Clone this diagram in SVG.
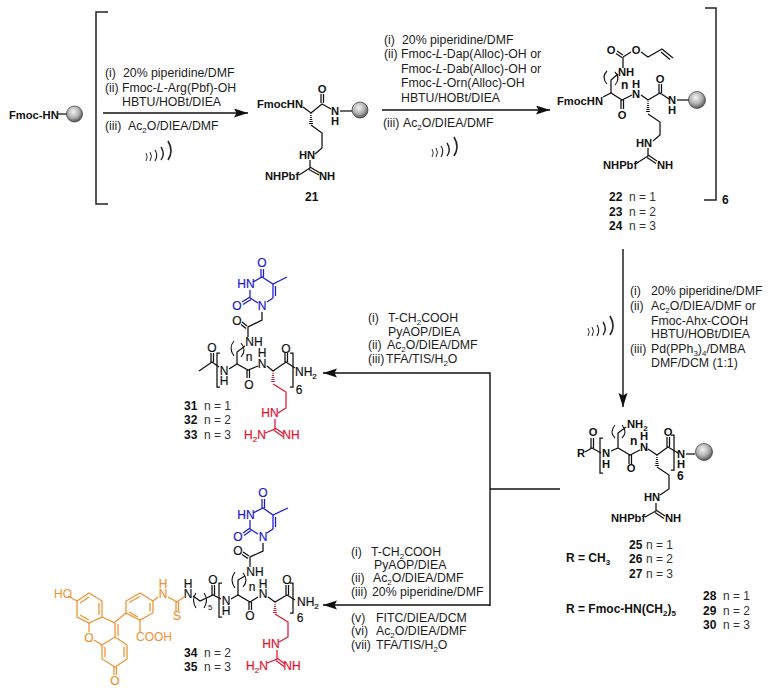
<svg xmlns="http://www.w3.org/2000/svg" width="774" height="691" viewBox="0 0 774 691">
<style>
text{font-family:"Liberation Sans",Arial,sans-serif;fill:#1c1c1c}
.c{font-size:12.3px}
.a{font-size:11.2px;font-weight:bold;text-anchor:middle;fill:#111}
.as{font-size:11.2px;font-weight:bold;fill:#111}
.m{font-size:12px;text-anchor:middle;fill:#111;stroke:#111;stroke-width:.2}
.bb{font-size:12px;font-weight:bold;fill:#111}
.reg{font-size:12px;fill:#111;stroke:#111;stroke-width:.2}
.n{font-size:12px;fill:#333}
.bt{fill:#1a1ad0}.rt{fill:#e0142c}.ot{fill:#ee9230}
.m.bt{stroke:#1a1ad0}.m.rt{stroke:#e0142c}.m.ot{stroke:#ee9230}
.l{fill:none;stroke:#111;stroke-width:1.25}
.bu{fill:none;stroke:#1a1ad0;stroke-width:1.25}
.re{fill:none;stroke:#e0142c;stroke-width:1.25}
.or{fill:none;stroke:#ee9230;stroke-width:1.25}
.br{fill:none;stroke:#222;stroke-width:1.5}
.arrow{fill:none;stroke:#111;stroke-width:1.4}
.par{fill:none;stroke:#111;stroke-width:1.1}
</style>
<defs>
<radialGradient id="ball" cx="0.42" cy="0.36" r="0.68">
<stop offset="0" stop-color="#f4f4f4"/><stop offset="0.55" stop-color="#b0b0b0"/><stop offset="1" stop-color="#4a4a4a"/>
</radialGradient>
<marker id="ah" markerUnits="userSpaceOnUse" markerWidth="14" markerHeight="10" refX="14" refY="4.5" orient="auto">
<path d="M0,0 L14,4.500 L0,9 L2.500,4.500 Z" fill="#111"/>
</marker>
<path id="hw" stroke-width="1" d="M-.4,.5H.4M-.7,2.500H.7M-1,4.500H1M-1.300,6.500H1.300M-1.600,8.500H1.600M-1.900,10.500H1.900"/>
<g id="us" fill="none" stroke="#222">
<path d="M0,-4 Q2.500,0 0,4" stroke-width=".9"/>
<path d="M4,-5 Q7,-1 4,4" stroke-width="1"/>
<path d="M9,-7 Q12.500,-2 9,4" stroke-width="1.200"/>
<path d="M15,-10 Q19.500,-3 15,3" stroke-width="1.400"/>
<path d="M22,-16 Q28,-6 22,3" stroke-width="1.600"/>
</g>
</defs>

<g id="connectors">
<path class="arrow" d="M103,113H248" marker-end="url(#ah)"/>
<path class="arrow" d="M382,110H550" marker-end="url(#ah)"/>
<path class="arrow" d="M623,249V407" marker-end="url(#ah)"/>
<path class="arrow" d="M560,489H490"/>
<path class="arrow" d="M490,606V373H323" marker-end="url(#ah)"/>
<path class="arrow" d="M490,605H323" marker-end="url(#ah)"/>
<path class="br" d="M108,12H96V204H108"/>
<path class="br" d="M705,8H716V200H704"/>
<text class="bb" x="722" y="204">6</text>
<use href="#us" x="146" y="157"/>
<use href="#us" x="432" y="153"/>
<use href="#us" x="588" y="332"/>
</g>

<g id="conditions-1">
<text class="c" x="105" y="77">(i)</text><text class="c" x="123" y="77">20% piperidine/DMF</text>
<text class="c" x="105" y="92">(ii)</text><text class="c" x="122" y="92">Fmoc-<tspan font-style="italic">L</tspan>-Arg(Pbf)-OH</text>
<text class="c" x="122" y="106">HBTU/HOBt/DIEA</text>
<text class="c" x="105" y="130">(iii)</text><text class="c" x="128" y="130">Ac<tspan font-size="8" dy="2.500">2</tspan><tspan dy="-2.500">O/DIEA/DMF</tspan></text>
</g>
<g id="conditions-2">
<text class="c" x="384" y="44">(i)</text><text class="c" x="402" y="44">20% piperidine/DMF</text>
<text class="c" x="384" y="58">(ii)</text><text class="c" x="401" y="58">Fmoc-<tspan font-style="italic">L</tspan>-Dap(Alloc)-OH or</text>
<text class="c" x="401" y="73">Fmoc-<tspan font-style="italic">L</tspan>-Dab(Alloc)-OH or</text>
<text class="c" x="401" y="87">Fmoc-<tspan font-style="italic">L</tspan>-Orn(Alloc)-OH</text>
<text class="c" x="401" y="102">HBTU/HOBt/DIEA</text>
<text class="c" x="383" y="127">(iii)</text><text class="c" x="403" y="127">Ac<tspan font-size="8" dy="2.500">2</tspan><tspan dy="-2.500">O/DIEA/DMF</tspan></text>
</g>
<g id="conditions-3">
<text class="c" x="630" y="295">(i)</text><text class="c" x="651" y="295">20% piperidine/DMF</text>
<text class="c" x="630" y="310">(ii)</text><text class="c" x="651" y="310">Ac<tspan font-size="8" dy="2.500">2</tspan><tspan dy="-2.500">O/DIEA/DMF or</tspan></text>
<text class="c" x="651" y="325">Fmoc-Ahx-COOH</text>
<text class="c" x="651" y="338">HBTU/HOBt/DIEA</text>
<text class="c" x="630" y="353">(iii)</text><text class="c" x="651" y="353">Pd(PPh<tspan font-size="8" dy="2.500">3</tspan><tspan dy="-2.500">)</tspan><tspan font-size="8" dy="2.500">4</tspan><tspan dy="-2.500">/DMBA</tspan></text>
<text class="c" x="651" y="367">DMF/DCM (1:1)</text>
</g>
<g id="conditions-4">
<text class="c" x="368" y="322">(i)</text><text class="c" x="388" y="322">T-CH<tspan font-size="8" dy="2.500">2</tspan><tspan dy="-2.500">COOH</tspan></text>
<text class="c" x="388" y="336">PyAOP/DIEA</text>
<text class="c" x="368" y="349">(ii)</text><text class="c" x="387" y="349">Ac<tspan font-size="8" dy="2.500">2</tspan><tspan dy="-2.500">O/DIEA/DMF</tspan></text>
<text class="c" x="368" y="363">(iii)</text><text class="c" x="386" y="363">TFA/TIS/H<tspan font-size="8" dy="2.500">2</tspan><tspan dy="-2.500">O</tspan></text>
</g>
<g id="conditions-5">
<text class="c" x="351" y="556">(i)</text><text class="c" x="371" y="556">T-CH<tspan font-size="8" dy="2.500">2</tspan><tspan dy="-2.500">COOH</tspan></text>
<text class="c" x="374" y="569">PyAOP/DIEA</text>
<text class="c" x="351" y="582">(ii)</text><text class="c" x="373" y="582">Ac<tspan font-size="8" dy="2.500">2</tspan><tspan dy="-2.500">O/DIEA/DMF</tspan></text>
<text class="c" x="351" y="596">(iii)</text><text class="c" x="372" y="596">20% piperidine/DMF</text>
<text class="c" x="351" y="622">(v)</text><text class="c" x="376" y="622">FITC/DIEA/DCM</text>
<text class="c" x="351" y="635">(vi)</text><text class="c" x="376" y="635">Ac<tspan font-size="8" dy="2.500">2</tspan><tspan dy="-2.500">O/DIEA/DMF</tspan></text>
<text class="c" x="351" y="649">(vii)</text><text class="c" x="376" y="649">TFA/TIS/H<tspan font-size="8" dy="2.500">2</tspan><tspan dy="-2.500">O</tspan></text>
</g>

<g id="resin-start">
<text class="as" x="9" y="119">Fmoc-HN</text>
<path class="l" d="M57,114H67"/>
<circle cx="74.500" cy="114" r="8" fill="url(#ball)" stroke="#222" stroke-width=".6"/>
</g>

<g id="compound-21">
<text class="as" x="257" y="108">FmocHN</text>
<path class="l" d="M303,107L311,113L322,104L331,109"/>
<path class="l" d="M321,103V94M323.500,103V94"/>
<text class="a" x="322" y="93">O</text>
<text class="a" x="335" y="115">N</text><text class="a" x="335" y="125">H</text>
<path class="l" d="M340,111H352"/>
<circle cx="360" cy="110" r="8" fill="url(#ball)" stroke="#222" stroke-width=".6"/>
<use href="#hw" x="311" y="113" stroke="#111"/>
<path class="l" d="M311,125L322,133V148L315,154"/>
<text class="as" x="299" y="159">HN</text>
<path class="l" d="M310,160V168L299,175M310,167L320,173M309,169.500L319,175"/>
<text class="as" x="265" y="180">NHPbf</text>
<text class="as" x="319" y="180">NH</text>
<text class="bb" x="305" y="201">21</text>
</g>

<g id="compound-22-24">
<text class="a" x="611" y="54">O</text><text class="a" x="636" y="54">O</text>
<path class="l" d="M617,51L623,55M616,53.500L622,57.500M623,57L631,52M641,52L648,57L662,49L673,58M661,52L670,59.500M623,57V68"/>
<text class="as" x="618" y="76">NH</text>
<path class="l" d="M611,93V80L618,74"/>
<path class="par" d="M607,71Q601,77 607,84M615,72Q621,78 615,85"/>
<text class="bb" x="621" y="89">n</text>
<text class="as" x="557" y="105">FmocHN</text>
<path class="l" d="M603,97L611,93L622,100L632,95M621,100V109M623.500,100V109"/>
<text class="a" x="622" y="119">O</text>
<text class="a" x="636" y="88">H</text><text class="a" x="636" y="98">N</text>
<path class="l" d="M641,95L648,100L660,93L669,99M659,93V84M661.500,93V84"/>
<text class="a" x="660" y="83">O</text>
<text class="a" x="672" y="104">N</text><text class="a" x="672" y="114">H</text>
<path class="l" d="M677,100H689"/>
<circle cx="697" cy="100" r="8.500" fill="url(#ball)" stroke="#222" stroke-width=".6"/>
<use href="#hw" x="648" y="101" stroke="#111"/>
<path class="l" d="M648,114L660,122V135L653,141"/>
<text class="as" x="636" y="147">HN</text>
<path class="l" d="M648,148V156L637,163M648,155L657,161M647,157.500L656,163.500"/>
<text class="as" x="603" y="169">NHPbf</text>
<text class="as" x="657" y="169">NH</text>
<text class="bb" x="609" y="201">22</text><text class="n" x="629" y="201">n = 1</text>
<text class="bb" x="609" y="216">23</text><text class="n" x="629" y="216">n = 2</text>
<text class="bb" x="609" y="230">24</text><text class="n" x="629" y="230">n = 3</text>
</g>

<g id="compound-25-30">
<text class="as" x="577" y="457">R</text>
<path class="l" d="M585,452L592,448L601,453M591,448V438M593.500,448V438"/>
<text class="a" x="593" y="436">O</text>
<text class="a" x="606" y="457">N</text><text class="a" x="606" y="468">H</text>
<path class="l" d="M603,438H600V473H603"/>
<path class="l" d="M611,451L618,448L630,455L640,450M618,448V433L626,427M629,455V464M631.500,455V464"/>
<path class="par" d="M615,425Q609,432 615,438M622,425Q628,432 622,438"/>
<text class="as" x="627" y="428">NH<tspan font-size="8" dy="2.500">2</tspan></text>
<text class="bb" x="630" y="445">n</text>
<text class="a" x="631" y="472">O</text>
<text class="a" x="644" y="440">H</text><text class="a" x="644" y="451">N</text>
<path class="l" d="M648,449L657,455L668,447L678,453M667,447V437M669.500,447V437"/>
<text class="a" x="668" y="436">O</text>
<path class="l" d="M671,435H674V470H671"/>
<text class="bb" x="677" y="480">6</text>
<text class="a" x="681" y="458">N</text><text class="a" x="681" y="468">H</text>
<path class="l" d="M686,454H695"/>
<circle cx="704" cy="452" r="8.500" fill="url(#ball)" stroke="#222" stroke-width=".6"/>
<use href="#hw" x="657" y="455" stroke="#111"/>
<path class="l" d="M657,467L669,475V489L660,495"/>
<text class="as" x="644" y="501">HN</text>
<path class="l" d="M656,503V511L645,517M656,510L665,516M655,512.500L664,518.500"/>
<text class="as" x="611" y="522">NHPbf</text>
<text class="as" x="665" y="522">NH</text>
<text class="bb" x="629" y="549">25</text><text class="n" x="646" y="549">n = 1</text>
<text class="bb" x="629" y="563">26</text><text class="n" x="646" y="563">n = 2</text>
<text class="bb" x="629" y="578">27</text><text class="n" x="646" y="578">n = 3</text>
<text class="bb" x="566" y="562">R = CH<tspan font-size="8" dy="2.500">3</tspan></text>
<text class="bb" x="566" y="613">R = Fmoc-HN(CH<tspan font-size="8" dy="2.500">2</tspan><tspan dy="-2.500">)</tspan><tspan font-size="8" dy="2.500">5</tspan></text>
<text class="bb" x="703" y="600">28</text><text class="n" x="723" y="600">n = 1</text>
<text class="bb" x="703" y="615">29</text><text class="n" x="723" y="615">n = 2</text>
<text class="bb" x="703" y="629">30</text><text class="n" x="723" y="629">n = 3</text>
</g>

<g id="compound-31-33">
<text class="m bt" x="262" y="267">O</text>
<path class="bu" d="M261,269V277M263.500,269V277M253,282L262,277L273,284L287,277M273,284V298M275.500,286V296M273,298L267,302M250,290V298L258,303M250,297L242,302M251,299.500L243,304.500"/>
<text class="m bt" x="246" y="288">HN</text>
<text class="m bt" x="262" y="310">N</text>
<text class="m bt" x="237" y="310">O</text>
<path class="l" d="M262,312V320L248,327V337M247,326L242,322M246,328.500L241,324.500"/>
<text class="m" x="237" y="325">O</text>
<text class="m" x="254" y="346">NH</text>
<path class="l" d="M237,364V352L245,346"/>
<path class="par" d="M234,341Q228,348 234,356M241,343Q247,350 241,357"/>
<text class="m" x="249" y="361">n</text>
<path class="l" d="M199,371L212,362L219,367M211,362V353M213.500,362V353"/>
<text class="m" x="212" y="352">O</text>
<path class="l" d="M220,353H217V387H220"/>
<text class="m" x="224" y="375">N</text><text class="m" x="224" y="385">H</text>
<path class="l" d="M229,369L237,364L248,370L258,366M247,370V378M249.500,370V378"/>
<text class="m" x="249" y="389">O</text>
<text class="m" x="262" y="357">H</text><text class="m" x="262" y="368">N</text>
<path class="l" d="M267,366L273,371L286,362L295,368M285,362V353M287.500,362V353"/>
<text class="m" x="286" y="353">O</text>
<path class="l" d="M290,353H293V387H290"/>
<text class="reg" x="295" y="376">NH<tspan font-size="8" dy="2.500">2</tspan></text>
<text class="m" x="299" y="394">6</text>
<use href="#hw" x="273" y="371" stroke="#e0142c"/>
<path class="re" d="M273,384L286,392V408L278,413M275,419V429L265,433M275,428L284,434M274,430.500L283,436.500"/>
<text class="m rt" x="270" y="417">HN</text>
<text class="m rt" x="255" y="439">H<tspan font-size="8" dy="2.500">2</tspan><tspan dy="-2.500">N</tspan></text>
<text class="m rt" x="291" y="439">NH</text>
<text class="bb" x="184" y="410">31</text><text class="n" x="204" y="410">n = 1</text>
<text class="bb" x="184" y="424">32</text><text class="n" x="204" y="424">n = 2</text>
<text class="bb" x="184" y="439">33</text><text class="n" x="204" y="439">n = 3</text>
</g>

<g id="compound-34-35">
<text class="m bt" x="263" y="497">O</text>
<path class="bu" d="M262,499V508M264.500,499V508M253,513L263,508L273,515L288,508M273,515V529M275.500,517V527M273,529L267,533M250,520V529L258,534M250,528L243,533M251,530.500L244,535.500"/>
<text class="m bt" x="246" y="519">HN</text>
<text class="m bt" x="263" y="541">N</text>
<text class="m bt" x="238" y="541">O</text>
<path class="l" d="M263,543V551L250,557V567M249,556L243,552M248,558.500L242,554.500"/>
<text class="m" x="238" y="555">O</text>
<text class="m" x="255" y="576">NH</text>
<path class="l" d="M238,595V580L245,576"/>
<path class="par" d="M235,572Q229,580 235,588M243,573Q249,580 243,587"/>
<text class="m" x="252" y="591">n</text>
<path class="l" d="M231,599L238,595L250,602L258,597M249,602V610M251.500,602V610"/>
<text class="m" x="250" y="620">O</text>
<text class="m" x="263" y="588">H</text><text class="m" x="263" y="598">N</text>
<path class="l" d="M268,597L275,602L287,595L295,600M286,595V585M288.500,595V585"/>
<text class="m" x="287" y="584">O</text>
<path class="l" d="M290,583H293V613H290"/>
<text class="reg" x="297" y="606">NH<tspan font-size="8" dy="2.500">2</tspan></text>
<text class="m" x="300" y="622">6</text>
<use href="#hw" x="275" y="602" stroke="#e0142c"/>
<path class="re" d="M275,614L288,622V637L279,642M277,650V659L267,663M277,658L285,664M276,660.500L284,666.500"/>
<text class="m rt" x="271" y="648">HN</text>
<text class="m rt" x="257" y="670">H<tspan font-size="8" dy="2.500">2</tspan><tspan dy="-2.500">N</tspan></text>
<text class="m rt" x="292" y="670">NH</text>
<path class="l" d="M222,583H219V617H222"/>
<text class="m" x="226" y="605">N</text><text class="m" x="226" y="615">H</text>
<path class="l" d="M193,596L200,601L213,595L221,599M212,595V585M214.500,595V585"/>
<text class="m" x="213" y="584">O</text>
<path class="par" d="M196,593Q191,600 196,608M204,593Q209,600 204,608"/>
<text x="208" y="610" style="font-size:8px;fill:#111">5</text>
<text class="m" x="188" y="588">H</text><text class="m" x="188" y="598">N</text>
<text class="m ot" x="163" y="588">H</text><text class="m ot" x="163" y="598">N</text>
<path class="or" d="M184,597L177,602L168,597M176,602V611M178.500,602V611"/>
<text class="m ot" x="177" y="620">S</text>
<path class="or" d="M158,597L153,601V613L140,620L126,613V601L140,593L153,601M150,603V611.500M138,617L129,612M129,602.500L140,596.500"/>
<path class="or" d="M126,613L115,622M140,620V632"/>
<text class="ot" style="font-size:12px" x="136" y="641">COOH</text>
<text class="ot" style="font-size:12px" x="54" y="598">HO</text>
<path class="or" d="M68,596L77,601L89,593L102,601V617L89,623L77,617V601M80,603L89,597M99,603V615M89,620L80,615"/>
<path class="or" d="M102,617L115,623V637L102,645L94,640M89,632V623M118,624V636"/>
<text class="m ot" x="89" y="642">O</text>
<path class="or" d="M115,637L127,645V659L115,667L102,659V645M124,647V657M105,647V657"/>
<path class="or" d="M114,667V675M116.500,667V675"/>
<text class="m ot" x="115" y="685">O</text>
<text class="bb" x="184" y="657">34</text><text class="n" x="204" y="657">n = 2</text>
<text class="bb" x="184" y="671">35</text><text class="n" x="204" y="671">n = 3</text>
</g>
</svg>
